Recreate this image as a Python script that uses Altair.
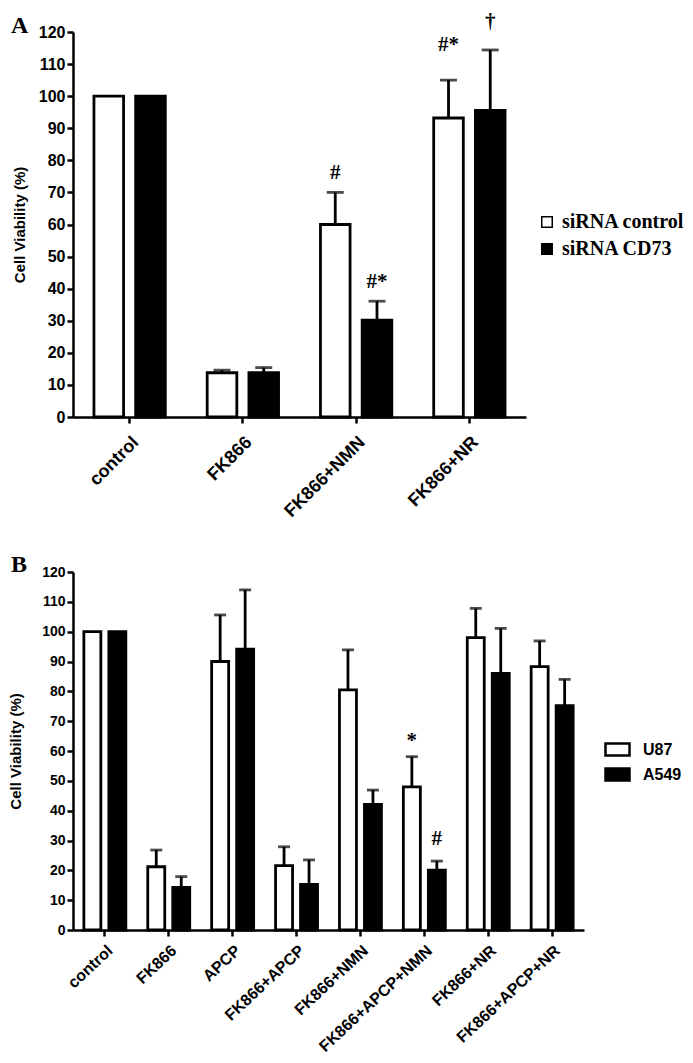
import altair as alt
import pandas as pd

# ---------------- Panel A data ----------------
cats_a = ["control", "FK866", "FK866+NMN", "FK866+NR"]
series_a = ["siRNA control", "siRNA CD73"]
mean_a_ctrl = [100, 13.8, 60.0, 93.2]
err_a_ctrl = [0, 0.8, 10.0, 11.8]
mean_a_cd73 = [100, 13.8, 30.2, 95.6]
err_a_cd73 = [0, 1.6, 5.9, 18.8]
ann_a_cat = ["FK866+NMN", "FK866+NMN", "FK866+NR", "FK866+NR"]
ann_a_series = ["siRNA control", "siRNA CD73", "siRNA control", "siRNA CD73"]
ann_a_text = ["#", "#*", "#*", "†"]
ann_a_y = [76.0, 42.0, 116.0, 123.0]

# ---------------- Panel B data ----------------
cats_b = ["control", "FK866", "APCP", "FK866+APCP", "FK866+NMN",
          "FK866+APCP+NMN", "FK866+NR", "FK866+APCP+NR"]
series_b = ["U87", "A549"]
mean_b_u87 = [100, 21.2, 90.0, 21.6, 80.5, 48.0, 98.0, 88.3]
err_b_u87 = [0, 5.6, 15.6, 6.3, 13.4, 10.1, 9.8, 8.6]
mean_b_a549 = [100, 14.3, 94.1, 15.3, 42.1, 20.1, 86.0, 75.2]
err_b_a549 = [0, 3.6, 19.9, 8.2, 4.8, 3.0, 15.1, 8.8]
ann_b_cat = ["FK866+APCP+NMN", "FK866+APCP+NMN"]
ann_b_series = ["U87", "A549"]
ann_b_text = ["*", "#"]
ann_b_y = [63.5, 30.5]

panel_labels = ["A", "B"]
y_ticks = list(range(0, 121, 10))


def make_df(cats, series, means, errs):
    rows = []
    for s, m_list, e_list in zip(series, means, errs):
        for c, m, e in zip(cats, m_list, e_list):
            rows.append({"cat": c, "series": s, "mean": m, "err": e, "top": m + e})
    return pd.DataFrame(rows)


def panel(df, ann, cats, series, width, height, pin, pout, opad, cap,
          legend, letter, letter_y, ylab_size, xlab_size, xlab_angle, xlab_pad,
          title_pad, ann_font):
    xaxis = alt.Axis(title=None, labelAngle=xlab_angle, labelFontSize=xlab_size,
                     tickSize=6, labelPadding=xlab_pad)
    yaxis = alt.Axis(title="Cell Viability (%)", values=y_ticks, tickCount=13,
                     labelFontSize=ylab_size, titleFontSize=15, labelOverlap=False,
                     tickSize=6, labelPadding=2, titlePadding=title_pad)
    yscale = alt.Scale(domain=[0, 120], nice=False)
    xenc = alt.X("cat:N", sort=cats,
                 scale=alt.Scale(domain=cats, paddingInner=pin, paddingOuter=pout),
                 axis=xaxis)
    xoff = alt.XOffset("series:N", sort=series,
                       scale=alt.Scale(domain=series, paddingInner=opad, paddingOuter=0))
    bars = alt.Chart(df).mark_bar(stroke="black", strokeWidth=2.8).encode(
        x=xenc, xOffset=xoff,
        y=alt.Y("mean:Q", scale=yscale, axis=yaxis),
        fill=alt.Fill("series:N", sort=series,
                      scale=alt.Scale(domain=series, range=["white", "black"]),
                      legend=legend),
    )
    dfe = df[df["err"] > 0]
    stems = alt.Chart(dfe).mark_rule(color="black", strokeWidth=2.8).encode(
        x=xenc, xOffset=xoff,
        y=alt.Y("mean:Q", scale=yscale, axis=yaxis), y2="top:Q")
    caps = alt.Chart(dfe).mark_tick(color="black", thickness=2.8, size=cap).encode(
        x=xenc, xOffset=xoff,
        y=alt.Y("top:Q", scale=yscale, axis=yaxis))
    texts = alt.Chart(ann).mark_text(font="Liberation Serif", fontWeight="bold",
                                     fontSize=ann_font, baseline="middle",
                                     color="black").encode(
        x=xenc, xOffset=xoff,
        y=alt.Y("y:Q", scale=yscale, axis=yaxis), text="label:N")
    lab = alt.Chart(pd.DataFrame({"label": [letter]})).mark_text(
        font="Liberation Serif", fontWeight="bold", fontSize=24, align="left",
        baseline="alphabetic", color="black").encode(
        x=alt.value(-62), y=alt.value(letter_y), text="label:N")
    return alt.layer(bars, stems, caps, texts, lab).properties(
        width=width, height=height)


df_a = make_df(cats_a, series_a, [mean_a_ctrl, mean_a_cd73], [err_a_ctrl, err_a_cd73])
ann_a = pd.DataFrame({"cat": ann_a_cat, "series": ann_a_series,
                      "label": ann_a_text, "y": ann_a_y})
df_b = make_df(cats_b, series_b, [mean_b_u87, mean_b_a549], [err_b_u87, err_b_a549])
ann_b = pd.DataFrame({"cat": ann_b_cat, "series": ann_b_series,
                      "label": ann_b_text, "y": ann_b_y})

legend_a = alt.Legend(title=None, orient="none", legendX=464, legendY=180,
                      symbolType="square", symbolSize=110, symbolStrokeColor="black",
                      symbolStrokeWidth=1.5, labelFont="Liberation Serif",
                      labelFontSize=20, labelFontWeight="bold", labelColor="black",
                      rowPadding=7, padding=0, labelOffset=5)
legend_b = alt.Legend(title=None, orient="none", legendX=531, legendY=164,
                      symbolType="M-1,-0.5L1,-0.5L1,0.5L-1,0.5Z", symbolSize=576,
                      symbolStrokeColor="black", symbolStrokeWidth=2.5,
                      labelFont="Liberation Sans", labelFontSize=16,
                      labelFontWeight="bold", labelColor="black",
                      rowPadding=0, padding=0, labelOffset=12)

pa = panel(df_a, ann_a, cats_a, series_a, 453, 385, 0.37, 0.185, 0.29, 17,
           legend_a, panel_labels[0], 1, 16, 18, -45, 10, 11, 21)
pb = panel(df_b, ann_b, cats_b, series_b, 511, 358, 0.343, 0.17, 0.32, 12,
           legend_b, panel_labels[1], 0, 14, 16, -43, 6, 18, 21)

chart = alt.vconcat(pa, pb, spacing=32).resolve_scale(
    fill="independent", x="independent", y="independent", xOffset="independent"
).resolve_legend(fill="independent").properties(
    padding={"left": 0, "top": 3, "right": 0, "bottom": 0}
).configure_view(stroke=None).configure_axis(
    labelFont="Liberation Sans", labelFontWeight="bold", labelColor="black",
    titleFont="Liberation Sans", titleFontWeight="bold", titleColor="black",
    domainColor="black", tickColor="black", domainWidth=2.5, tickWidth=2.5,
    grid=False
)

chart.save("out.html", embed_options={"renderer": "svg", "actions": False})
